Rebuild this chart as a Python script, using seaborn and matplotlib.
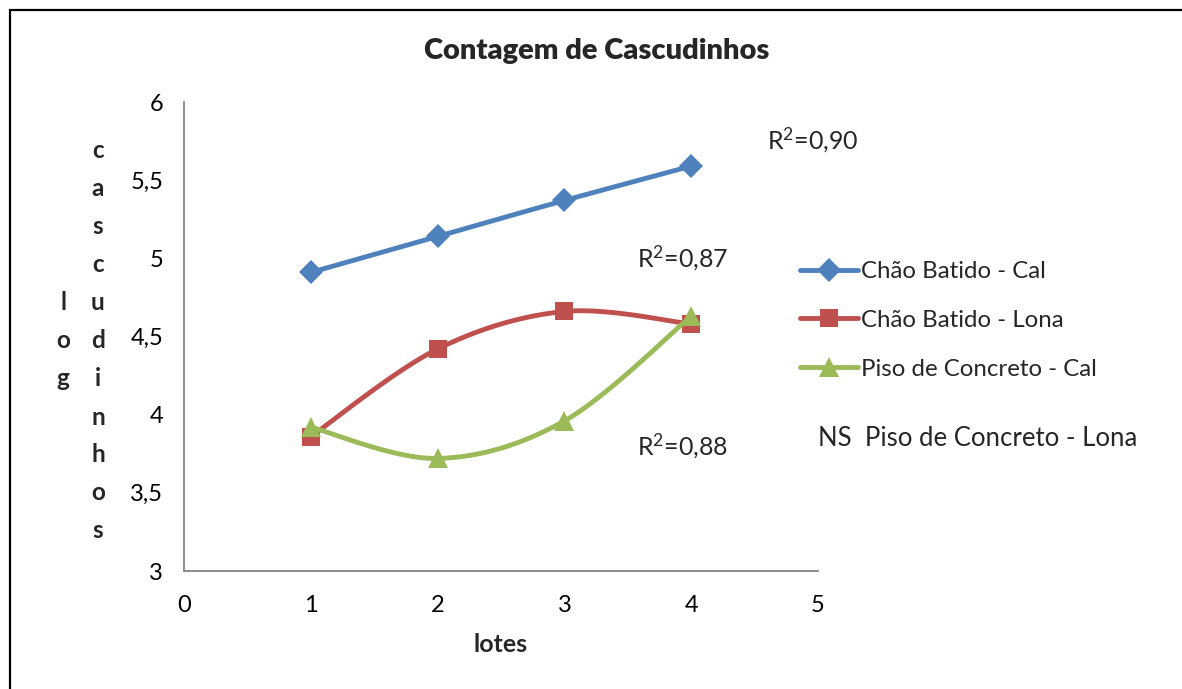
import numpy as np
import pandas as pd
import seaborn as sns
import matplotlib
matplotlib.use("Agg")
import matplotlib.pyplot as plt
from matplotlib.lines import Line2D
from matplotlib.patches import Rectangle

# ---- data -------------------------------------------------------------
lotes = [1, 2, 3, 4]
chao_batido_cal = [4.91, 5.14, 5.37, 5.59]
chao_batido_lona = [3.86, 4.42, 4.66, 4.58]
piso_concreto_cal = [3.92, 3.72, 3.96, 4.63]

series_names = ["Chão Batido - Cal", "Chão Batido - Lona", "Piso de Concreto - Cal"]
r2_labels = ["0,90", "0,87", "0,88"]
ns_label = "NS  Piso de Concreto - Lona"

x_ticks = [0, 1, 2, 3, 4, 5]
y_ticks = [3, 3.5, 4, 4.5, 5, 5.5, 6]
y_tick_labels = ["3", "3,5", "4", "4,5", "5", "5,5", "6"]

title = "Contagem de Cascudinhos"
x_label = "lotes"
y_label_1 = "log"
y_label_2 = "cascudinhos"

# ---- style ------------------------------------------------------------
sns.set_theme(style="white")
FONT = "Lato"
plt.rcParams["font.family"] = [FONT, "DejaVu Sans"]
plt.rcParams["mathtext.fontset"] = "custom"
plt.rcParams["mathtext.rm"] = FONT
plt.rcParams["mathtext.it"] = FONT

colors = ["#4F81BD", "#C0504D", "#9BBB59"]
markers = ["D", "s", "^"]
msizes = [12, 13.5, 14.5]
LW = 3.5

W, H = 1182, 689
fig = plt.figure(figsize=(W / 100, H / 100), dpi=100)


def fx(px):
    return px / W


def fy(py):
    return 1 - py / H


ax = fig.add_axes([fx(184), fy(571), fx(818) - fx(184), fy(102) - fy(571)])


def smooth(xs, ys, n=40):
    """Cardinal (Catmull-Rom) Bezier smoothing through the given points."""
    p = np.column_stack([xs, ys]).astype(float)
    ext = np.vstack([p[0], p, p[-1]])
    out = []
    t = np.linspace(0, 1, n)[:, None]
    for i in range(len(p) - 1):
        p0, p1, p2, p3 = ext[i], ext[i + 1], ext[i + 2], ext[i + 3]
        c1 = p1 + (p2 - p0) / 6
        c2 = p2 - (p3 - p1) / 6
        seg = ((1 - t) ** 3) * p1 + 3 * ((1 - t) ** 2) * t * c1 + 3 * (1 - t) * t ** 2 * c2 + t ** 3 * p2
        out.append(seg if i == 0 else seg[1:])
    seg = np.vstack(out)
    return seg[:, 0], seg[:, 1]


all_series = [chao_batido_cal, chao_batido_lona, piso_concreto_cal]
df = pd.DataFrame({
    "lote": lotes * 3,
    "valor": chao_batido_cal + chao_batido_lona + piso_concreto_cal,
    "serie": np.repeat(series_names, len(lotes)),
})

for k, (name, vals) in enumerate(zip(series_names, all_series)):
    sx, sy = smooth(lotes, vals)
    ax.plot(sx, sy, color=colors[k], lw=LW, solid_capstyle="round", zorder=2 + 2 * k)
    sub = df[df["serie"] == name]
    sns.lineplot(data=sub, x="lote", y="valor", ax=ax, linestyle="none",
                 marker=markers[k], markersize=msizes[k], color=colors[k],
                 markeredgewidth=0, zorder=3 + 2 * k, legend=False)

ax.set_xlim(0, 5)
ax.set_ylim(3, 6)
ax.set_xticks(x_ticks)
ax.set_xticklabels([str(v) for v in x_ticks])
ax.set_yticks(y_ticks)
ax.set_yticklabels(y_tick_labels)
ax.set_xlabel("")
ax.set_ylabel("")

for side in ["top", "right"]:
    ax.spines[side].set_visible(False)
for side in ["left", "bottom"]:
    ax.spines[side].set_color("#868686")
    ax.spines[side].set_linewidth(1.3)
ax.tick_params(axis="both", which="both", direction="out", length=5, width=1.3,
               color="#868686", labelsize=17, labelcolor="black")
ax.tick_params(axis="x", pad=12)
ax.tick_params(axis="y", pad=10)
ax.set_facecolor("white")

# titles and axis labels
fig.text(fx(597), fy(51), title, ha="center", va="center", fontsize=21,
         fontweight="heavy")
fig.text(fx(501), fy(645), x_label, ha="center", va="center", fontsize=18,
         fontweight="bold")

spacing = 38
for col_x, word in [(63, y_label_1), (98, y_label_2)]:
    n = len(word)
    for i, ch in enumerate(word):
        yy = 341 + (i - (n - 1) / 2) * spacing
        fig.text(fx(col_x), fy(yy), ch, ha="center", va="center", fontsize=17.5,
                 fontweight="bold")

# R² annotations
r2_pos = [(767, 140), (637, 258), (637, 446)]
for (px, py), lab in zip(r2_pos, r2_labels):
    fig.text(fx(px), fy(py), r"R$^{2}$=" + lab, ha="left", va="center", fontsize=18)

# legend
handles = [Line2D([0], [0], color=c, lw=LW, marker=m, markersize=s,
                  markeredgewidth=0, solid_capstyle="round")
           for c, m, s in zip(colors, markers, msizes)]
fig.legend(handles, series_names, loc="upper left",
           bbox_to_anchor=(fx(800), fy(261)), frameon=False, fontsize=17.3,
           handlelength=2.4, handletextpad=0.15, labelspacing=1.16,
           borderaxespad=0, borderpad=0)

fig.text(fx(818), fy(438), ns_label, ha="left", va="center", fontsize=18.5)

# chart frame
fig.patches.append(Rectangle((fx(10), fy(H + 20)), 1.2, fy(10) - fy(H + 20),
                             transform=fig.transFigure, fill=False,
                             edgecolor="black", linewidth=1.6, zorder=0))

fig.savefig("out.png", dpi=100, facecolor="white")
